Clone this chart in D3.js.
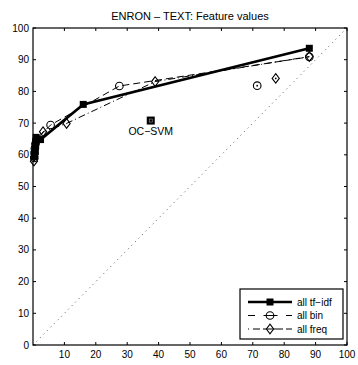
<!DOCTYPE html>
<html><head><meta charset="utf-8">
<script src="https://cdn.jsdelivr.net/npm/d3@7"></script>
<style>body{margin:0;background:#fff}svg{display:block}text{font-family:"Liberation Sans",Arial,sans-serif}</style>
</head><body>
<script>
const title = "ENRON – TEXT: Feature values";
const xTicks = [10,20,30,40,50,60,70,80,90,100];
const yTicks = [0,10,20,30,40,50,60,70,80,90,100];
const tfidfX = [0.5,0.6,0.7,0.8,1.0,2.4,16,88];
const tfidfY = [59.5,61,62.5,64,65.5,64.8,75.9,93.6];
const binX = [0.4,0.5,0.6,0.8,1.2,5.6,27.5,88];
const binY = [59,60.5,62,63.5,65,69.4,81.7,90.9];
const freqX = [0.3,0.4,0.5,0.7,1.0,3.2,10.7,38.9,88];
const freqY = [58,59.5,61,62.5,64,67.3,69.9,83.1,91];
const ocsvm = [37.5,70.8];
const binSingle = [71.4,81.8];
const freqSingle = [77.3,84.1];
const legendLabels = ["all tf−idf","all bin","all freq"];

const W=358,H=365;
const m={l:33,r:11,t:28,b:20};
const svg=d3.select("body").append("svg").attr("width",W).attr("height",H);
const x=d3.scaleLinear().domain([0,100]).range([m.l,W-m.r]);
const y=d3.scaleLinear().domain([0,100]).range([H-m.b,m.t]);

svg.append("text").attr("x",(m.l+W-m.r)/2).attr("y",20).attr("text-anchor","middle").attr("font-size",11).text(title);

// diagonal
svg.append("line").attr("x1",x(0)).attr("y1",y(0)).attr("x2",x(100)).attr("y2",y(100))
  .attr("stroke","#555").attr("stroke-width",1).attr("stroke-dasharray","1,4");

const line=d3.line().x(d=>x(d[0])).y(d=>y(d[1]));
const zip=(a,b)=>a.map((v,i)=>[v,b[i]]);
const tf=zip(tfidfX,tfidfY), bn=zip(binX,binY), fq=zip(freqX,freqY);

function sq(g,px,py,s){g.append("rect").attr("x",px-s/2).attr("y",py-s/2).attr("width",s).attr("height",s).attr("fill","#000");}
function circ(g,px,py){g.append("circle").attr("cx",px).attr("cy",py).attr("r",3.8).attr("fill","none").attr("stroke","#000").attr("stroke-width",1.1);}
function diam(g,px,py){g.append("path").attr("d",`M${px},${py-4.8}L${px+3.6},${py}L${px},${py+4.8}L${px-3.6},${py}Z`).attr("fill","none").attr("stroke","#000").attr("stroke-width",1.1);}

const g=svg.append("g");
g.append("path").datum(fq).attr("d",line).attr("fill","none").attr("stroke","#000").attr("stroke-width",1).attr("stroke-dasharray","7,3,1,3");
g.append("path").datum(bn).attr("d",line).attr("fill","none").attr("stroke","#000").attr("stroke-width",1).attr("stroke-dasharray","7,4");
g.append("path").datum(tf).attr("d",line).attr("fill","none").attr("stroke","#000").attr("stroke-width",2.6);
fq.forEach(d=>diam(g,x(d[0]),y(d[1])));
bn.forEach(d=>circ(g,x(d[0]),y(d[1])));
tf.forEach(d=>sq(g,x(d[0]),y(d[1]),7));

// singles
sq(g,x(ocsvm[0]),y(ocsvm[1]),8);
g.append("rect").attr("x",x(ocsvm[0])-1.5).attr("y",y(ocsvm[1])-1.5).attr("width",3).attr("height",3).attr("fill","none").attr("stroke","#999").attr("stroke-width",0.6);
svg.append("text").attr("x",x(ocsvm[0])).attr("y",y(ocsvm[1])+14).attr("text-anchor","middle").attr("font-size",10.5).text("OC−SVM");
circ(g,x(binSingle[0]),y(binSingle[1]));
g.append("circle").attr("cx",x(binSingle[0])).attr("cy",y(binSingle[1])).attr("r",0.9).attr("fill","#000");
diam(g,x(freqSingle[0]),y(freqSingle[1]));
g.append("circle").attr("cx",x(freqSingle[0])).attr("cy",y(freqSingle[1])).attr("r",0.9).attr("fill","#000");

// axes box & ticks
const ax=svg.append("g");
const tl=3;
xTicks.forEach(t=>{
  ax.append("line").attr("x1",x(t)).attr("x2",x(t)).attr("y1",y(0)).attr("y2",y(0)-tl).attr("stroke","#000");
  ax.append("line").attr("x1",x(t)).attr("x2",x(t)).attr("y1",y(100)).attr("y2",y(100)+tl).attr("stroke","#000");
  ax.append("text").attr("x",x(t)).attr("y",y(0)+13).attr("text-anchor","middle").attr("font-size",10).text(t);
});
yTicks.forEach(t=>{
  ax.append("line").attr("x1",x(0)).attr("x2",x(0)+tl).attr("y1",y(t)).attr("y2",y(t)).attr("stroke","#000");
  ax.append("line").attr("x1",x(100)).attr("x2",x(100)-tl).attr("y1",y(t)).attr("y2",y(t)).attr("stroke","#000");
  ax.append("text").attr("x",x(0)-4).attr("y",y(t)+3.5).attr("text-anchor","end").attr("font-size",10).text(t);
});
ax.append("rect").attr("x",x(0)).attr("y",y(100)).attr("width",x(100)-x(0)).attr("height",y(0)-y(100)).attr("fill","none").attr("stroke","#000").attr("stroke-width",1.2);

// legend
const lg=svg.append("g");
const lx=240, ly=289, lw=103, lh=50;
lg.append("rect").attr("x",lx).attr("y",ly).attr("width",lw).attr("height",lh).attr("fill","#fff").attr("stroke","#000").attr("stroke-width",1.2);
const rows=[ly+13,ly+26.5,ly+40];
const mx=270;
lg.append("line").attr("x1",248).attr("x2",292).attr("y1",rows[0]).attr("y2",rows[0]).attr("stroke","#000").attr("stroke-width",2.6);
sq(lg,mx,rows[0],7);
lg.append("line").attr("x1",248).attr("x2",292).attr("y1",rows[1]).attr("y2",rows[1]).attr("stroke","#000").attr("stroke-width",1).attr("stroke-dasharray","7,8.5,14,8.5,7");
circ(lg,mx,rows[1]);
lg.append("line").attr("x1",248).attr("x2",292).attr("y1",rows[2]).attr("y2",rows[2]).attr("stroke","#000").attr("stroke-width",1).attr("stroke-dasharray","1,4,7,3,20,3,7,4,1");
diam(lg,mx,rows[2]);
legendLabels.forEach((l,i)=>lg.append("text").attr("x",297).attr("y",rows[i]+3.5).attr("font-size",10).text(l));
</script>
</body></html>
